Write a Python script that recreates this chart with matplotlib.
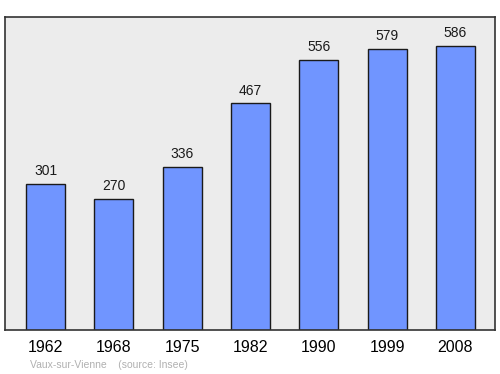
import matplotlib.pyplot as plt

years = ["1962", "1968", "1975", "1982", "1990", "1999", "2008"]
population = [301, 270, 336, 467, 556, 579, 586]
source_text = "Vaux-sur-Vienne    (source: Insee)"

plt.rcParams['font.family'] = ['Liberation Sans', 'DejaVu Sans']

fig = plt.figure(figsize=(5, 3.74), dpi=100)
ax = fig.add_axes([0.01, 0.1176, 0.98, 0.837])
ax.set_facecolor("#ececec")

x = range(len(years))
ax.bar(x, population, width=0.57, color="#7095ff", edgecolor="#1a1a1a", linewidth=1.0, zorder=2)

for i, v in zip(x, population):
    ax.text(i, v + 12, str(v), ha="center", va="bottom", fontsize=10, color="#1a1a1a")

ax.set_xlim(-0.593, 6.58)
ax.set_ylim(0, 645)
ax.set_xticks(list(x))
ax.set_xticklabels(years, fontsize=11.5)
ax.tick_params(axis="x", length=0, pad=7)
ax.set_yticks([])
for s in ax.spines.values():
    s.set_color("#333333")
    s.set_linewidth(1.2)

fig.text(0.06, 0.01, source_text, fontsize=7.5, color="#b0b0b0", ha="left", va="bottom")

fig.savefig("out.png", dpi=100)
